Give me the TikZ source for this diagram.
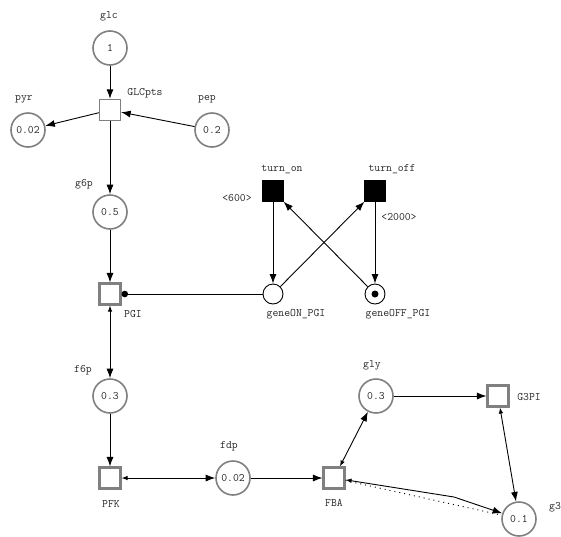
\documentclass[tikz,border=0pt]{standalone}
\usetikzlibrary{arrows.meta}
\definecolor{pgray}{RGB}{128,128,128}
\definecolor{tgray}{RGB}{40,40,40}
\newcommand{\fsz}{\ttfamily\fontsize{11.4}{13}\selectfont}
\tikzset{
  place/.style={circle, draw=pgray, line width=1.6pt, minimum size=34pt, inner sep=0pt, font=\fsz, text=tgray},
  trans/.style={rectangle, draw=pgray, line width=2.6pt, minimum size=20.5pt, inner sep=0pt, fill=white},
  thintrans/.style={rectangle, draw=pgray, line width=1.3pt, minimum size=21pt, inner sep=0pt, fill=white},
  blacktrans/.style={rectangle, fill=black, draw=black, minimum size=21pt, inner sep=0pt},
  gene/.style={circle, draw=black, line width=0.9pt, minimum size=20pt, inner sep=0pt},
  token/.style={circle, fill=black, minimum size=7pt, inner sep=0pt},
  lbl/.style={font=\fsz, text=tgray, inner sep=0pt},
  edge/.style={line width=0.9pt, draw=black},
  arr/.style={edge, -{Latex[length=9.5pt,width=7pt]}},
  darr/.style={edge, {Latex[length=6pt,width=4.5pt]}-{Latex[length=9.5pt,width=7pt]}},
  readarc/.style={edge, {Circle[length=6.5pt]}-},
  dotline/.style={line width=0.9pt, dash pattern=on 1pt off 4pt, draw=black}
}
\begin{document}
\begin{tikzpicture}[x=1pt,y=-1pt]
\useasboundingbox (0,0) rectangle (561,536);
% places
\node[place] (glc) at (110,48) {1};
\node[place] (pyr) at (28,130) {0.02};
\node[place] (pep) at (212,130) {0.2};
\node[place] (g6p) at (110,212) {0.5};
\node[place] (f6p) at (110,396) {0.3};
\node[place] (fdp) at (233,478) {0.02};
\node[place] (gly) at (376,396) {0.3};
\node[place] (g3p) at (519,519) {0.1};
\node[gene] (geneON) at (273,294) {};
\node[gene] (geneOFF) at (375,294) {};
\node[token] (tok) at (375,294) {};
% transitions
\node[thintrans] (GLCpts) at (110,110) {};
\node[trans] (PGI) at (110,294) {};
\node[trans] (PFK) at (110,478) {};
\node[trans] (FBA) at (334,478) {};
\node[trans] (G3PI) at (498,396) {};
\node[blacktrans] (turnon) at (273,191) {};
\node[blacktrans] (turnoff) at (375,191) {};
% labels
\node[lbl] (Lglc) at (109,16) {glc};
\node[lbl] (LGLCpts) at (145,93) {GLCpts};
\node[lbl] (Lpyr) at (24,99) {pyr};
\node[lbl] (Lpep) at (207,99) {pep};
\node[lbl] (Lg6p) at (84,184) {g6p};
\node[lbl] (Lturnon) at (282,169) {turn\_on};
\node[lbl] (Ldelay1) at (237,198) {<600>};
\node[lbl] (Lturnoff) at (392,169) {turn\_off};
\node[lbl] (Ldelay2) at (399,217) {<2000>};
\node[lbl] (LPGI) at (133,314) {PGI};
\node[lbl] (LgeneON) at (296,314) {geneON\_PGI};
\node[lbl] (LgeneOFF) at (398,314) {geneOFF\_PGI};
\node[lbl] (Lf6p) at (83,370) {f6p};
\node[lbl] (Lgly) at (372,365) {gly};
\node[lbl] (LG3PI) at (529,397) {G3PI};
\node[lbl] (Lfdp) at (229,446) {fdp};
\node[lbl] (LPFK) at (111,504) {PFK};
\node[lbl] (LFBA) at (334,503) {FBA};
\node[lbl, anchor=west] (Lg3p) at (549,507) {g3p};
\coordinate (bend) at (454,497);
% arcs
\draw[arr] (glc) -- (GLCpts);
\draw[arr] (GLCpts) -- (pyr);
\draw[arr] (pep) -- (GLCpts);
\draw[arr] (GLCpts) -- (g6p);
\draw[arr] (g6p) -- (PGI);
\draw[darr] (PGI) -- (f6p);
\draw[arr] (f6p) -- (PFK);
\draw[darr] (PFK) -- (fdp);
\draw[arr] (fdp) -- (FBA);
\draw[darr] (FBA) -- (gly);
\draw[arr] (gly) -- (G3PI);
\draw[darr] (G3PI) -- (g3p);
\draw[darr] (FBA) -- (bend) -- (g3p);
\draw[dotline] (FBA) -- (g3p);
\draw[arr] (turnon) -- (geneON);
\draw[arr] (geneON) -- (turnoff);
\draw[arr] (geneOFF) -- (turnon);
\draw[arr] (turnoff) -- (geneOFF);
\draw[readarc] (PGI) -- (geneON);
\end{tikzpicture}
\end{document}
